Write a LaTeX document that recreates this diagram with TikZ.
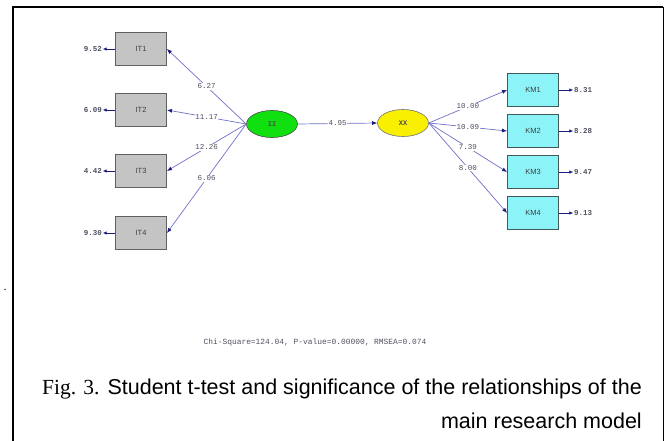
\documentclass[tikz,border=0pt]{standalone}
\usepackage{fontspec}
\setmainfont{Liberation Serif}
\setsansfont{Liberation Sans}
\setmonofont{Liberation Mono}
\usetikzlibrary{arrows.meta,shapes.geometric}
\definecolor{linec}{HTML}{7070C8}
\definecolor{tipc}{HTML}{1A1A80}
\definecolor{numc}{HTML}{505060}
\definecolor{grayfill}{HTML}{C4C4C4}
\definecolor{grayedge}{HTML}{606060}
\definecolor{cyanfill}{HTML}{8CF4F8}
\definecolor{cyanedge}{HTML}{405858}
\definecolor{greenfill}{HTML}{10E010}
\definecolor{yellowfill}{HTML}{F8F000}
\tikzset{
  indbox/.style={draw=grayedge, line width=0.9pt, fill=grayfill, minimum width=51pt, minimum height=33pt, inner sep=0pt, font=\sffamily\fontsize{7.5}{8}\selectfont, text=black!75},
  kmbox/.style={indbox, draw=cyanedge, fill=cyanfill},
  latent/.style={ellipse, draw=black!70, line width=0.6pt, minimum width=51pt, minimum height=27pt, inner sep=0pt, font=\ttfamily\bfseries\fontsize{7}{8}\selectfont, text=black!70},
  errlab/.style={font=\ttfamily\bfseries\fontsize{7.5}{8}\selectfont, text=numc, inner sep=0.5pt},
  tval/.style={fill=white, font=\ttfamily\fontsize{7.5}{8}\selectfont, text=numc, inner sep=0.6pt},
  path/.style={draw=linec, line width=0.7pt, -{Latex[length=5pt,width=4pt,color=tipc]}},
  errpath/.style={draw=tipc, line width=0.8pt, -{Latex[length=4pt,width=3.5pt,color=tipc]}},
  captext/.style={anchor=east, inner sep=0pt, font=\sffamily\fontsize{21.5}{24}\selectfont},
}
\begin{document}
\begin{tikzpicture}[x=1pt,y=-1pt]
\useasboundingbox (0,0) rectangle (664,441);
% frame
\draw[line width=2.2pt] (13,441) -- (13,7) -- (663,7);
\draw[line width=1pt] (663,7) -- (663,441);
\node[font=\rmfamily\fontsize{12}{12}\selectfont, inner sep=0pt] (dot) at (5,290) {.};
% indicators
\node[indbox] (it1) at (141,49) {IT1};
\node[indbox] (it2) at (141,110) {IT2};
\node[indbox] (it3) at (141,171) {IT3};
\node[indbox] (it4) at (141,233) {IT4};
\node[kmbox] (km1) at (533,90) {KM1};
\node[kmbox] (km2) at (533,131) {KM2};
\node[kmbox] (km3) at (533,172) {KM3};
\node[kmbox] (km4) at (533,213) {KM4};
% latents
\node[latent, fill=greenfill] (ii) at (272,124) {II};
\node[latent, fill=yellowfill, draw=black!55] (xx) at (403,123) {XX};
% error labels
\node[errlab] (e1) at (93,49) {9.52};
\node[errlab] (e2) at (93,110) {6.09};
\node[errlab] (e3) at (93,171) {4.42};
\node[errlab] (e4) at (93,233) {9.30};
\node[errlab] (f1) at (583,90) {8.31};
\node[errlab] (f2) at (583,131) {8.28};
\node[errlab] (f3) at (583,172) {9.47};
\node[errlab] (f4) at (583,213) {9.13};
\foreach \b/\e in {it1/e1,it2/e2,it3/e3,it4/e4}{\draw[errpath] (\b.west) -- (\e.east);}
\foreach \b/\e in {km1/f1,km2/f2,km3/f3,km4/f4}{\draw[errpath] (\b.east) -- (\e.west);}
% structural paths
\draw[path] (ii.west) -- node[tval] {6.27} (it1.east);
\draw[path] (ii.west) -- node[tval] {11.17} (it2.east);
\draw[path] (ii.west) -- node[tval] {12.26} (it3.east);
\draw[path] (ii.west) -- node[tval] {6.06} (it4.east);
\draw[path] (ii.east) -- node[tval] {4.95} (xx.west);
\draw[path] (xx.east) -- node[tval] {10.00} (km1.west);
\draw[path] (xx.east) -- node[tval] {10.09} (km2.west);
\draw[path] (xx.east) -- node[tval] {7.39} (km3.west);
\draw[path] (xx.east) -- node[tval] {8.00} (km4.west);
% fit
\node[font=\ttfamily\fontsize{7.9}{8}\selectfont, text=numc] (fit) at (315,342) {Chi-Square=124.04, P-value=0.00000, RMSEA=0.074};
% caption
\node[captext] (cap1) at (642,389) {{\rmfamily Fig. 3.} Student t-test and significance of the relationships of the};
\node[captext] (cap2) at (642,421) {main research model};
\end{tikzpicture}
\end{document}
